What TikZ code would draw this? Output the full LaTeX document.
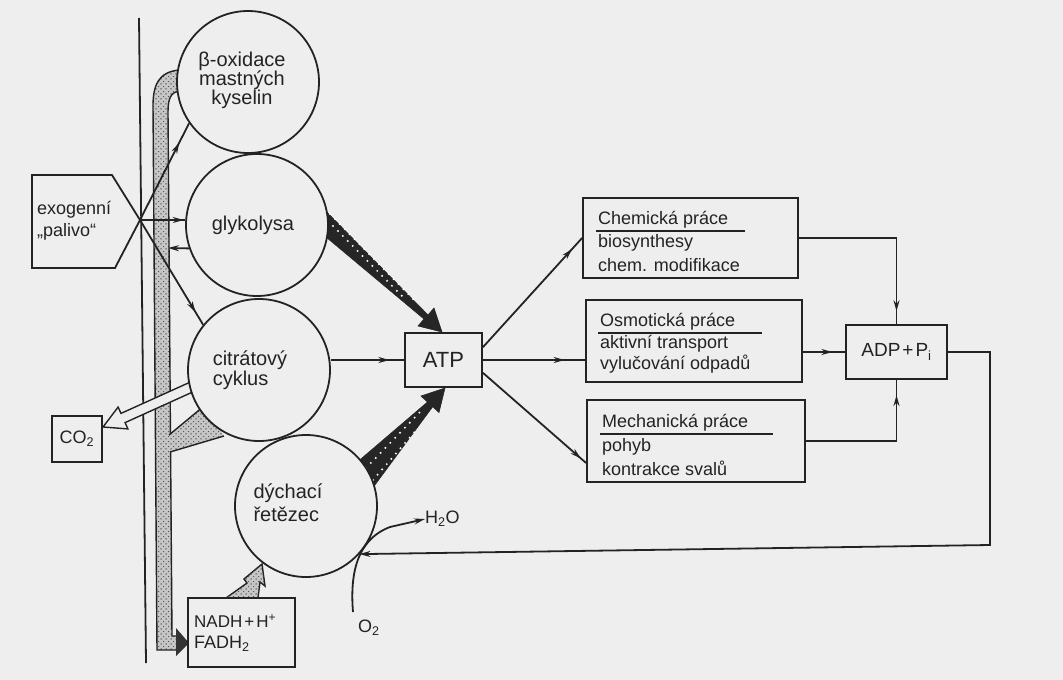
\documentclass[tikz,border=0pt]{standalone}
\usepackage{fontspec}
\setmainfont{Liberation Sans}
\usetikzlibrary{arrows.meta,patterns,decorations.markings,calc}
\definecolor{bg}{RGB}{238,238,238}
\definecolor{ink}{RGB}{35,35,35}
\pgfdeclarepatternformonly{stipple}{\pgfqpoint{-1pt}{-1pt}}{\pgfqpoint{6pt}{6pt}}{\pgfqpoint{5pt}{5pt}}{%
  \pgfpathcircle{\pgfqpoint{1pt}{1pt}}{0.75pt}%
  \pgfpathcircle{\pgfqpoint{3.6pt}{3.4pt}}{0.65pt}%
  \pgfusepath{fill}}
\tikzset{
  ln/.style={draw=ink, line width=1.8pt},
  proc/.style={circle, draw=ink, line width=1.8pt, fill=bg, minimum size=142pt, inner sep=0pt},
  wbox/.style={rectangle, draw=ink, line width=1.8pt, fill=bg, inner sep=0pt},
  ctext/.style={inner sep=0pt, font=\fontsize{20}{19}\selectfont, text=ink},
  btext/.style={inner sep=0pt, anchor=west, font=\fontsize{18}{22}\selectfont, text=ink},
  stip/.style={fill=gray!45, postaction={pattern=stipple, pattern color=black!70}},
  dark/.style={fill=black!85, draw=black!85, line width=0.6pt},
  wdots/.style={white, line width=2.2pt, line cap=round, dash pattern=on 0pt off 7pt},
  marr/.style={postaction={decorate}, decoration={markings, mark=at position #1 with {\arrow{Stealth[length=11pt,width=6pt]}}}},
  tarr/.style={-{Stealth[length=11pt,width=6pt]}},
}
\begin{document}
\begin{tikzpicture}[x=1pt,y=-1pt]
\useasboundingbox (0,0) rectangle (1063,680);
\fill[bg] (0,0) rectangle (1063,680);

% membrane line
\draw[ln] (139,18) -- (146,663);

% stippled band (reduced coenzymes)
\path[stip] (179,70) .. controls (158,72) and (153,86) .. (153,106) -- (157,650) -- (177,650)
  -- (177,636) -- (172,636) -- (168,112) .. controls (168,98) and (171,92) .. (180,91) -- cycle;
\draw[ln, line width=1.4pt] (179,70) .. controls (158,72) and (153,86) .. (153,106) -- (157,650) -- (177,650);
\draw[ln, line width=1.4pt] (180,91) .. controls (171,92) and (168,98) .. (168,112) -- (172,636) -- (177,636);
\fill[black!80] (176,628) -- (189,643) -- (176,656) -- cycle;
% branch from citrate cycle
\path[stip] (204,406) -- (165,438) -- (165,453) -- (224,436) -- cycle;
\draw[ln, line width=1.4pt] (204,406) -- (169,435);
\draw[ln, line width=1.4pt] (224,436) -- (170,452);

% CO2 hollow arrow
\draw[ln, line width=1.4pt, fill=bg] (194,380.4) -- (121,413.4) -- (118.1,407.1) -- (103,427)
  -- (127.9,428.9) -- (125.1,422.6) -- (198,389.6) -- cycle;

% dark wedge arrows to ATP
\path[dark] (318,203) -- (428,315) -- (434,308) -- (442,332) -- (418,326) -- (424,319) -- (320,232) -- cycle;
\draw[wdots] (330,214) -- (414,300);
\draw[wdots] (333,226) -- (402,296);
\path[dark] (355,464) -- (427.5,402) -- (421,396) -- (445,388) -- (439,412.5) -- (432.7,406.7) -- (369,493) -- cycle;
\draw[wdots] (366,468) -- (422,410);
\draw[wdots] (373,480) -- (418,428);

% stippled arrow NADH -> respiratory chain
\path[stip, draw=ink, line width=1.4pt] (226,598) -- (247,583) -- (244,579) -- (262,564) -- (265,586) -- (260,582) -- (258,598) -- cycle;

% circles
\node[proc] (beta) at (248,82) {};
\node[proc] (glyk) at (257,225) {};
\node[proc] (citr) at (259,370) {};
\node[proc] (dych) at (306,506) {};
\node[ctext, align=center] (betat) at (242,80) {β-oxidace\\mastných\\kyselin};
\node[ctext] (glykt) at (253,225) {glykolysa};
\node[ctext, align=left, font=\fontsize{20}{20}\selectfont] (citrt) at (250,370) {citrátový\\cyklus};
\node[ctext, align=left, font=\fontsize{20}{23}\selectfont] (dycht) at (288,503) {dýchací\\řetězec};

% exogenous fuel
\coordinate (tip) at (140,220);
\draw[ln] (32,175) -- (112,175) -- (tip) -- (115,268) -- (32,268) -- cycle;
\node[btext, align=left] (exo) at (37,221) {exogenní\\„palivo“};

% boxes
\node[wbox, minimum width=77pt, minimum height=54pt, font=\fontsize{22}{24}\selectfont, text=ink] (atp) at (443.5,360) {ATP};
\node[wbox, minimum width=215pt, minimum height=80pt] (chem) at (690.5,238) {};
\node[wbox, minimum width=216pt, minimum height=82pt] (osm) at (694,341) {};
\node[wbox, minimum width=218pt, minimum height=82pt] (mech) at (696,441) {};
\node[wbox, minimum width=101pt, minimum height=54pt, font=\fontsize{19}{22}\selectfont, text=ink] (adp) at (896.5,352) {ADP\kern2pt+\kern2pt P\textsubscript{i}};
\node[wbox, minimum width=50pt, minimum height=46pt, font=\fontsize{18}{22}\selectfont, text=ink] (co2) at (77,439) {CO\textsubscript{2}};
\node[wbox, minimum width=107pt, minimum height=69pt] (nadh) at (241.5,632.5) {};
\node[btext, font=\fontsize{17}{22}\selectfont] (nadht) at (194,621) {NADH\kern2pt+\kern2pt H\textsuperscript{+}};
\node[btext] (fadht) at (194,644) {FADH\textsubscript{2}};

% box texts
\node[btext] (chem1) at (598,220) {Chemická práce};
\draw[ln] (596,231) -- (745,231);
\node[btext] (chem2) at (598,243) {biosynthesy};
\node[btext] (chem3) at (598,265) {chem. modifikace};
\node[btext] (osm1) at (600,322) {Osmotická práce};
\draw[ln] (598,333) -- (762,333);
\node[btext] (osm2) at (600,344) {aktivní transport};
\node[btext] (osm3) at (600,364) {vylučování odpadů};
\node[btext] (mech1) at (602,423) {Mechanická práce};
\draw[ln] (600,434) -- (773,434);
\node[btext] (mech2) at (602,447) {pohyb};
\node[btext] (mech3) at (602,468) {kontrakce svalů};

% connectors from fuel
\draw[ln, marr=0.8] (tip) -- (beta.215);
\draw[ln, marr=0.97] (tip) -- (tip -| glyk.west);
\draw[ln, marr=0.88] (tip) -- (citr.141);
\draw[ln, tarr] (glyk.199) -- (168,248);

% ATP
\draw[ln, marr=0.8] (atp.west -| citr.east) -- (atp.west);
\draw[ln, marr=0.9] (atp.18) -- (chem.west);
\draw[ln, marr=0.8] (atp.east) -- (osm.west |- atp.east);
\draw[ln, marr=0.95] (atp.-18) -- ($(mech.west)+(0,22)$);

% to ADP
\draw[ln, marr=0.93] (chem.east) -| (adp.north);
\draw[ln, marr=0.7] (adp.west -| osm.east) -- (adp.west);
\draw[ln, marr=0.9] (mech.east) -| (adp.south);
\coordinate (rc) at (990,545);
\draw[ln, tarr] (adp.east) -- (adp.east -| rc) -- (rc) -- (dych.318);

% water / oxygen
\node[btext] (h2o) at (425,519) {H\textsubscript{2}O};
\node[btext] (o2) at (358,628) {O\textsubscript{2}};
\draw[ln, tarr] (353,612) .. controls (350,575) and (356,540) .. (390,527) -- (h2o.west);

\end{tikzpicture}
\end{document}
